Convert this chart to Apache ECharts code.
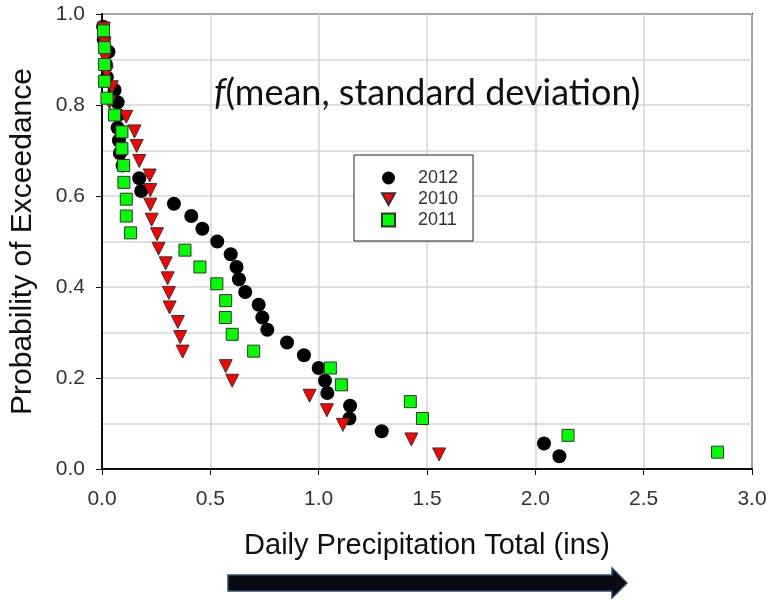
<!DOCTYPE html>
<html>
<head>
<meta charset="utf-8">
<script src="https://cdn.jsdelivr.net/npm/echarts@6/dist/echarts.min.js"></script>
<style>
  html, body { margin: 0; padding: 0; background: #fff; }
  #main { width: 771px; height: 602px; }
</style>
</head>
<body>
<div id="main"></div>
<script>
// precipitation (ins) and exceedance probability
let x2012 = [0.005, 0.008, 0.030, 0.018, 0.022, 0.058, 0.072, 0.075, 0.072, 0.078, 0.083, 0.095,
    0.172, 0.181, 0.332, 0.412, 0.463, 0.532, 0.594, 0.621, 0.632, 0.661, 0.723, 0.740, 0.763,
    0.854, 0.932, 1.000, 1.029, 1.040, 1.145, 1.142, 1.291, 2.040, 2.111];
let p2012 = [0.972, 0.944, 0.917, 0.889, 0.861, 0.833, 0.806, 0.778, 0.750, 0.722, 0.694, 0.667,
    0.639, 0.611, 0.583, 0.556, 0.528, 0.500, 0.472, 0.444, 0.417, 0.389, 0.361, 0.333, 0.306,
    0.278, 0.250, 0.222, 0.194, 0.167, 0.139, 0.111, 0.083, 0.056, 0.028];

let x2010 = [0.008, 0.012, 0.015, 0.022, 0.045, 0.035, 0.112, 0.150, 0.160, 0.172, 0.220,
    0.223, 0.223, 0.229, 0.254, 0.261, 0.294, 0.303, 0.309, 0.312, 0.350, 0.361, 0.372,
    0.571, 0.601, 0.958, 1.038, 1.112, 1.428, 1.556];
let p2010 = [0.968, 0.935, 0.903, 0.871, 0.839, 0.806, 0.774, 0.742, 0.710, 0.677, 0.645,
    0.613, 0.581, 0.548, 0.516, 0.484, 0.452, 0.419, 0.387, 0.355, 0.323, 0.290, 0.258,
    0.226, 0.194, 0.161, 0.129, 0.097, 0.065, 0.032];

let x2011 = [0.007, 0.012, 0.012, 0.012, 0.023, 0.058, 0.092, 0.092, 0.100, 0.101, 0.112, 0.112,
    0.132, 0.383, 0.452, 0.530, 0.571, 0.569, 0.601, 0.700, 1.054, 1.105, 1.423, 1.479, 2.151, 2.841];
let p2011 = [0.963, 0.926, 0.889, 0.852, 0.815, 0.778, 0.741, 0.704, 0.667, 0.630, 0.593, 0.556,
    0.519, 0.481, 0.444, 0.407, 0.370, 0.333, 0.296, 0.259, 0.222, 0.185, 0.148, 0.111, 0.074, 0.037];

let seriesNames = ["2012", "2010", "2011"];

function pairs(xs, ys) {
    return xs.map((x, i) => [x, ys[i]]);
}

let dom = document.getElementById("main");
let myChart = echarts.init(dom, null, { renderer: "canvas" });
let font = "Liberation Sans, Arial, sans-serif";
let downTri = "path://M0,0L10,0L5,9Z";

let option = {
    animation: false,
    backgroundColor: "#fff",
    title: {
        text: "{i|f}(mean, standard deviation)",
        left: 209,
        top: 70,
        textStyle: {
            fontFamily: "Lato, sans-serif",
            fontSize: 36,
            fontWeight: "normal",
            color: "#111",
            rich: {
                i: { fontFamily: "Lato, sans-serif", fontSize: 36, fontStyle: "italic", color: "#111" },
            },
        },
    },
    legend: {
        data: [
            { name: "2012", icon: "circle" },
            { name: "2010", icon: downTri },
            { name: "2011", icon: "rect" },
        ],
        orient: "vertical",
        left: 354,
        top: 155,
        padding: [14, 15, 12, 27],
        itemGap: 3,
        itemWidth: 13,
        itemHeight: 13,
        borderColor: "#222",
        borderWidth: 1,
        backgroundColor: "#fff",
        textStyle: { fontFamily: font, fontSize: 18, color: "#333", padding: [0, 0, 0, 18] },
    },
    grid: {
        left: 102,
        right: 19,
        top: 14,
        bottom: 133,
        show: true,
        borderColor: "#111",
        borderWidth: 2,
        outerBoundsMode: "none",
    },
    xAxis: {
        type: "value",
        min: 0,
        max: 3,
        interval: 0.5,
        name: "Daily Precipitation Total (ins)",
        nameLocation: "middle",
        nameGap: 62,
        nameTextStyle: { fontFamily: font, fontSize: 29, color: "#111" },
        axisLine: { show: true, onZero: false, lineStyle: { color: "#111", width: 2 } },
        axisTick: { show: true, length: 6, lineStyle: { color: "#111" } },
        axisLabel: {
            margin: 20,
            fontFamily: font,
            fontSize: 21,
            color: "#333",
            formatter: (v) => v.toFixed(1),
        },
        splitLine: { show: true, lineStyle: { color: "#d6d6d6", width: 1.5 } },
    },
    yAxis: {
        type: "value",
        min: 0,
        max: 1,
        interval: 0.2,
        name: "Probability of Exceedance",
        nameLocation: "middle",
        nameGap: 64,
        nameTextStyle: { fontFamily: font, fontSize: 30, color: "#111" },
        axisLine: { show: true, onZero: false, lineStyle: { color: "#111", width: 2 } },
        axisTick: { show: true, length: 6, lineStyle: { color: "#111" } },
        axisLabel: {
            margin: 17,
            fontFamily: font,
            fontSize: 21,
            color: "#333",
            formatter: (v) => v.toFixed(1),
        },
        splitLine: { show: true, lineStyle: { color: "#d6d6d6", width: 1.5 } },
        minorTick: { show: false, splitNumber: 2 },
        minorSplitLine: { show: true, lineStyle: { color: "#d6d6d6", width: 1.5 } },
    },
    series: [
        {
            name: "2012",
            type: "scatter",
            symbol: "circle",
            symbolSize: 14,
            itemStyle: { color: "#000", opacity: 1 },
            data: pairs(x2012, p2012),
        },
        {
            name: "2010",
            type: "scatter",
            symbol: "triangle",
            symbolRotate: 180,
            symbolSize: 13,
            itemStyle: { color: "#ff0000", borderColor: "#333", borderWidth: 1, opacity: 1 },
            data: pairs(x2010, p2010),
        },
        {
            name: "2011",
            type: "scatter",
            symbol: "rect",
            symbolSize: 12,
            itemStyle: { color: "#00ff00", borderColor: "#333", borderWidth: 1, opacity: 1 },
            data: pairs(x2011, p2011),
        },
    ],
    graphic: [
        {
            type: "polygon",
            shape: {
                points: [[228, 575], [612, 575], [612, 568], [627, 583], [612, 598], [612, 591], [228, 591]],
            },
            style: { fill: "#0a0a14", stroke: "#2c4a70", lineWidth: 1.5 },
        },
    ],
};

if (option && typeof option === "object") {
    myChart.setOption(option);
}

window.addEventListener("resize", myChart.resize);
</script>
</body>
</html>
